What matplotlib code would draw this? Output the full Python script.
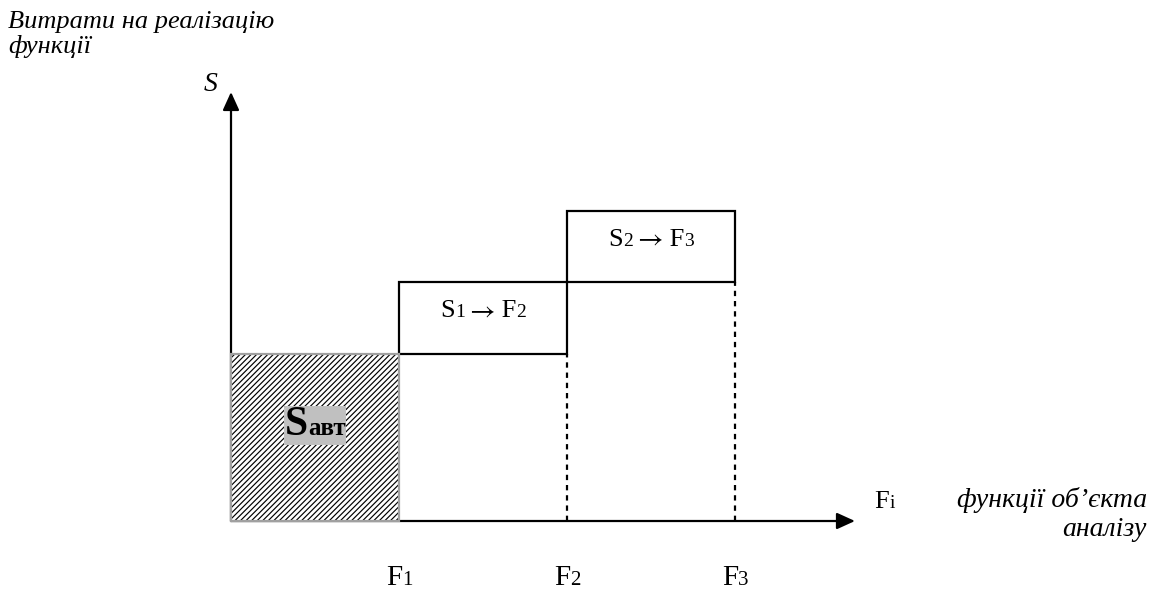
import matplotlib.pyplot as plt
from matplotlib.patches import Rectangle
from matplotlib.offsetbox import TextArea, HPacker, AnnotationBbox

plt.rcParams['font.family'] = ['Liberation Serif', 'DejaVu Serif']
plt.rcParams['mathtext.fontset'] = 'stix'
plt.rcParams['hatch.linewidth'] = 0.85

# functions of the analysed object (positions on the F axis)
func_names = ['1', '2', '3']
func_pos = [1, 2, 3]
# costs: base block S_avt and the two extra steps S1 -> F2, S2 -> F3
cost_avt = 2.34
cost_steps = [1.0, 1.0]
step_names = [('1', '2'), ('2', '3')]

fig = plt.figure(figsize=(11.54, 5.91), dpi=100)
ax = fig.add_axes([0, 0, 1, 1])
ax.set_xlim(-1.375, 5.494)
ax.set_ylim(-0.979, 7.287)
ax.axis('off')

FS_BOX = 19
FS_SUB = 14


def rich(parts, xy, frame=False, pad=0.0, face='none'):
    areas = [TextArea(t, textprops=dict(fontsize=s, fontweight=w, color='black'))
             for t, s, w in parts]
    box = HPacker(children=areas, align='baseline', pad=0, sep=0)
    ab = AnnotationBbox(box, xy, xycoords='data', frameon=frame,
                        box_alignment=(0.5, 0.5), pad=pad,
                        bboxprops=dict(facecolor=face, edgecolor='none'))
    ab.set_zorder(6)
    ax.add_artist(ab)


# axes with arrows
arrow = dict(arrowstyle='-|>,head_length=1.1,head_width=0.5', color='black',
             lw=1.6, mutation_scale=10, shrinkA=0, shrinkB=0)
ax.annotate('', xy=(0, 6.0), xytext=(0, 0), arrowprops=arrow)
ax.annotate('', xy=(3.714, 0), xytext=(0, 0), arrowprops=arrow)

# hatched base block
ax.add_patch(Rectangle((0, 0), func_pos[0], cost_avt, facecolor='white',
                       edgecolor='black', hatch='//////', lw=0, zorder=3))
ax.add_patch(Rectangle((0, 0), func_pos[0], cost_avt, fill=False,
                       edgecolor='#a0a0a0', lw=1.6, zorder=4))
rich([('S', 30, 'bold'), ('авт', 18, 'bold')], (0.5, 1.34),
     frame=True, pad=0.05, face='#c0c0c0')

# steps
level = cost_avt
for i, step in enumerate(cost_steps):
    x0, x1 = func_pos[i], func_pos[i + 1]
    ax.add_patch(Rectangle((x0, level), x1 - x0, step, fill=False,
                           edgecolor='black', lw=1.6, zorder=3))
    ax.plot([x1, x1], [0, level], color='black', lw=1.6,
            linestyle=(0, (2.4, 2.2)), zorder=2)
    s, f = step_names[i]
    rich([('S', FS_BOX, 'normal'), (s, FS_SUB, 'normal'),
          (r'$\rightarrow$', 20, 'normal'), (' F', FS_BOX, 'normal'),
          (f, FS_SUB, 'normal')],
         ((x0 + x1) / 2, level + step * 0.6))
    level += step

# F labels under the axis
for name, x in zip(func_names, func_pos):
    rich([('F', 21, 'normal'), (name, 15, 'normal')], (x, -0.8))

rich([('F', 19, 'normal'), ('i', 14, 'normal')], (3.89, 0.27))
ax.text(-0.12, 6.1, 'S', style='italic', fontsize=20, ha='center', va='center')

# captions
fig.text(8 / 1154, 1 - 28 / 591, 'Витрати на реалізацію', style='italic',
         fontsize=19, va='baseline')
fig.text(8 / 1154, 1 - 53 / 591, 'функції', style='italic',
         fontsize=19, va='baseline')
fig.text(1147 / 1154, 1 - 507 / 591, 'функції об’єкта', style='italic',
         fontsize=20, va='baseline', ha='right')
fig.text(1147 / 1154, 1 - 536 / 591, 'аналізу', style='italic',
         fontsize=20, va='baseline', ha='right')

fig.savefig('out.png', dpi=100)
